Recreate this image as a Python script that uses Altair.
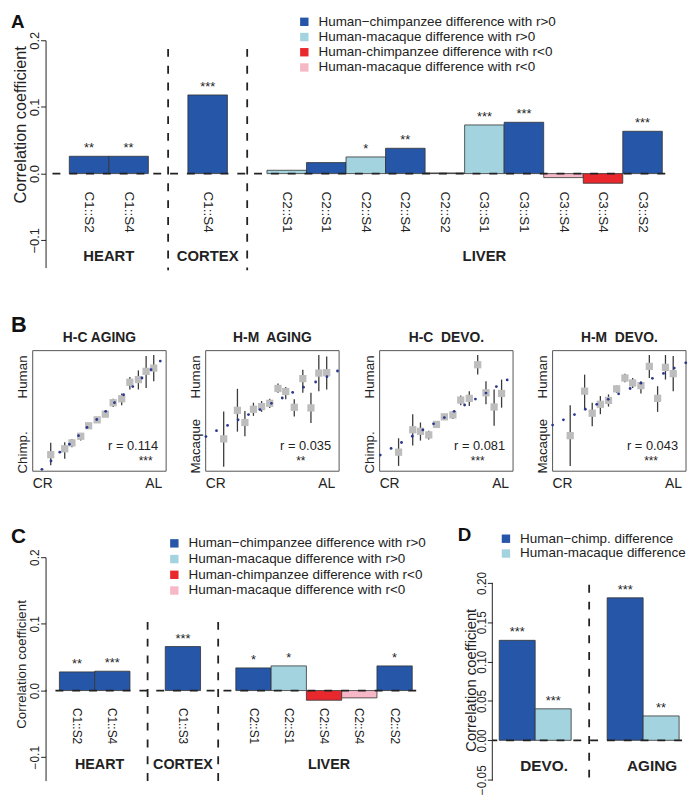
import altair as alt
import pandas as pd

FONT = "Liberation Sans"
INK = "#222222"
DARK = "#2556a7"
LIGHT = "#a3d3df"
RED = "#e8282d"
PINK = "#f6b8c6"
GREY = "#bdbdbd"
NAVY = "#29378d"
DASH = [8, 9]

LEG4 = ["Human\u2212chimpanzee difference with r>0",
        "Human-macaque difference with r>0",
        "Human-chimpanzee difference with r<0",
        "Human-macaque difference with r<0"]
COL4 = [DARK, LIGHT, RED, PINK]

# ---------------- Panel A ----------------
a_group = ["HEART", "HEART", "CORTEX"] + ["LIVER"] * 10
a_label = ["C1::S2", "C1::S4", "C1::S4", "C2::S1", "C2::S1", "C2::S4", "C2::S4",
           "C2::S2", "C3::S1", "C3::S1", "C3::S4", "C3::S4", "C3::S2"]
a_kind = [0, 0, 0, 1, 0, 1, 0, 0, 1, 0, 3, 2, 0]
a_value = [0.026, 0.026, 0.118, 0.005, 0.0165, 0.025, 0.038, 0.001,
           0.073, 0.077, -0.006, -0.0145, 0.0635]
a_stars = ["**", "**", "***", "", "", "*", "**", "", "***", "***", "", "", "***"]

# ---------------- Panel C ----------------
c_group = ["HEART", "HEART", "CORTEX", "LIVER", "LIVER", "LIVER", "LIVER", "LIVER"]
c_label = ["C1::S2", "C1::S4", "C1::S3", "C2::S1", "C2::S1", "C2::S4", "C2::S4", "C2::S2"]
c_kind = [0, 0, 0, 0, 1, 2, 3, 0]
c_value = [0.028, 0.029, 0.066, 0.034, 0.037, -0.0145, -0.011, 0.037]
c_stars = ["**", "***", "***", "*", "*", "", "", "*"]

# ---------------- Panel D ----------------
d_group = ["DEVO.", "DEVO.", "AGING", "AGING"]
d_label = ["", "", "", ""]
d_kind = [0, 1, 0, 1]
d_value = [0.127, 0.040, 0.181, 0.031]
d_stars = ["***", "***", "***", "**"]
d_names = ["Human\u2212chimp. difference", "Human-macaque difference"]
d_colors = [DARK, LIGHT]

# ---------------- Panel B ----------------
b_title = ["H-C AGING", "H-M\u00a0 AGING", "H-C\u00a0 DEVO.", "H-M\u00a0 DEVO."]
b_low_label = ["Chimp.", "Macaque", "Chimp.", "Macaque"]
b_r = ["r = 0.114", "r = 0.035", "r = 0.081", "r = 0.043"]
b_sig = ["***", "**", "***", "***"]

b_dot_x = [
    [0.069, 0.137, 0.203, 0.275, 0.343, 0.407, 0.480, 0.547, 0.613, 0.681, 0.750, 0.819, 0.887, 0.956],
    [0.002, 0.081, 0.164, 0.243, 0.321, 0.407, 0.493, 0.574, 0.652, 0.733, 0.824, 0.909, 0.988],
    [0.005, 0.086, 0.164, 0.245, 0.324, 0.404, 0.485, 0.559, 0.637, 0.718, 0.797, 0.875, 0.956],
    [0.000, 0.081, 0.164, 0.245, 0.331, 0.417, 0.495, 0.581, 0.662, 0.748, 0.831, 0.912, 0.998],
]
b_dot_y = [
    [0.016, 0.085, 0.158, 0.224, 0.295, 0.363, 0.429, 0.497, 0.568, 0.634, 0.702, 0.773, 0.842, 0.913],
    [0.287, 0.336, 0.380, 0.426, 0.470, 0.511, 0.563, 0.607, 0.653, 0.697, 0.740, 0.784, 0.831],
    [0.134, 0.189, 0.238, 0.290, 0.342, 0.393, 0.445, 0.497, 0.549, 0.598, 0.648, 0.702, 0.757],
    [0.383, 0.426, 0.470, 0.514, 0.555, 0.596, 0.642, 0.686, 0.730, 0.770, 0.811, 0.855, 0.899],
]
b_sq_x = [
    [0.135, 0.240, 0.294, 0.360, 0.419, 0.483, 0.544, 0.603, 0.667, 0.728, 0.792, 0.850, 0.907],
    [0.135, 0.238, 0.294, 0.358, 0.419, 0.480, 0.542, 0.600, 0.664, 0.728, 0.789, 0.848, 0.907],
    [0.142, 0.248, 0.306, 0.368, 0.426, 0.485, 0.549, 0.608, 0.672, 0.735, 0.797, 0.858, 0.914],
    [0.132, 0.240, 0.297, 0.358, 0.419, 0.480, 0.542, 0.600, 0.662, 0.725, 0.787, 0.846, 0.904],
]
b_sq_y = [
    [0.137, 0.186, 0.235, 0.290, 0.377, 0.426, 0.473, 0.568, 0.601, 0.738, 0.760, 0.828, 0.855],
    [0.268, 0.505, 0.404, 0.514, 0.536, 0.563, 0.686, 0.661, 0.530, 0.768, 0.525, 0.814, 0.817],
    [0.158, 0.344, 0.331, 0.301, 0.388, 0.451, 0.467, 0.590, 0.604, 0.883, 0.650, 0.533, 0.645],
    [0.295, 0.664, 0.481, 0.555, 0.587, 0.683, 0.773, 0.732, 0.710, 0.869, 0.604, 0.861, 0.809],
]
b_sq_lo = [
    [0.049, 0.104, 0.199, 0.254, 0.366, 0.410, 0.456, 0.533, 0.546, 0.678, 0.678, 0.691, 0.746],
    [0.036, 0.328, 0.290, 0.459, 0.492, 0.525, 0.650, 0.596, 0.454, 0.650, 0.399, 0.664, 0.678],
    [0.044, 0.213, 0.254, 0.262, 0.377, 0.437, 0.432, 0.546, 0.541, 0.801, 0.555, 0.377, 0.527],
    [0.044, 0.519, 0.372, 0.473, 0.536, 0.650, 0.738, 0.691, 0.645, 0.773, 0.492, 0.760, 0.664],
]
b_sq_hi = [
    [0.235, 0.240, 0.268, 0.317, 0.388, 0.443, 0.489, 0.601, 0.645, 0.781, 0.836, 0.956, 0.964],
    [0.495, 0.683, 0.500, 0.568, 0.582, 0.601, 0.727, 0.699, 0.596, 0.842, 0.650, 0.964, 0.951],
    [0.273, 0.473, 0.404, 0.336, 0.399, 0.464, 0.500, 0.628, 0.664, 0.964, 0.746, 0.678, 0.760],
    [0.546, 0.801, 0.568, 0.623, 0.637, 0.710, 0.809, 0.773, 0.746, 0.964, 0.705, 0.964, 0.956],
]

# ---------------- layout (pixels) ----------------
STAR_X = [0.846, 0.713, 0.735, 0.738]
B_XMIN = [13 / 135, 0, 0, 0]          # first panel starts 13px left of the common origin
B_W = [122, 135, 135, 135]
B_CELLS = [(-37, -57, 135, 158), (-25, -57, 153, 158), (-21, -57, 154, 158),
           (-19, -57, 136, 158)]


def cell(l, t, r, b):
    return alt.Chart(pd.DataFrame({"f": [0]})).mark_rect(opacity=0).encode(
        x=alt.value(l), x2=alt.value(r), y=alt.value(t), y2=alt.value(b))


def letter(t, x, y, size):
    return alt.Chart(pd.DataFrame({"t": [t]})).mark_text(
        fontSize=size, fontWeight="bold", font=FONT, color="#111111", align="left",
        baseline="alphabetic").encode(x=alt.value(x), y=alt.value(y), text="t:N")


def build_slots(groups):
    ids, order, gaps = [], [], []
    for i, g in enumerate(groups):
        if i > 0 and g != groups[i - 1]:
            gid = f"gap{len(gaps)}"
            gaps.append(gid)
            order.append(gid)
        sid = f"bar{i:02d}"
        ids.append(sid)
        order.append(sid)
    return ids, order, gaps


def bar_panel(groups, labels, kinds, values, stars, names, colors, st):
    ids, order, gaps = build_slots(groups)
    df = pd.DataFrame({"slot": ids, "group": groups, "label": labels,
                       "kind": [names[k] for k in kinds], "value": values, "stars": stars})
    xsc = alt.Scale(domain=order, paddingInner=0, paddingOuter=st["po"], align=st["align"])
    ysc = alt.Scale(domain=st["ydom"], nice=False, zero=False)

    def X(**kw):
        return alt.X("slot:N", scale=xsc, sort=order, axis=None, **kw)

    yaxis = alt.Axis(values=st["yticks"], format=st["yfmt"], title="Correlation coefficient",
                     grid=False, labelAngle=270, labelAlign="center", labelBaseline="alphabetic",
                     tickSize=5, labelPadding=2, labelFontSize=st["tick_font"], labelFont=FONT,
                     labelColor=INK, tickColor=INK, domain=not st.get("rule_axis", False),
                     domainColor=INK, titleFont=FONT,
                     titleFontSize=st["title_font"], titleFontWeight="normal", titleColor=INK,
                     titleAngle=270, titleBaseline="alphabetic", titleAlign="center",
                     titleX=st["title_x"], titleY=st["title_y"])
    legend = alt.Legend(title=None, orient="none", legendX=st["leg_x"], legendY=st["leg_y"],
                        symbolType="square", symbolSize=72, symbolStrokeWidth=0,
                        labelFont=FONT, labelFontSize=13.6, labelColor=INK, labelLimit=400,
                        rowPadding=st["row_pad"], labelOffset=7.5, padding=0)
    base = alt.Chart(df)
    bars = base.mark_bar(stroke="#333333", strokeWidth=0.8).encode(
        x=X(), y=alt.Y("value:Q", scale=ysc, axis=yaxis), y2=alt.datum(0),
        color=alt.Color("kind:N", scale=alt.Scale(domain=names, range=colors), legend=legend))
    zero = alt.Chart(pd.DataFrame({"z": [0]})).mark_rule(
        strokeDash=DASH, strokeWidth=1.8, color=INK).encode(y=alt.datum(0))
    seps = alt.Chart(pd.DataFrame({"slot": gaps})).mark_rule(
        strokeDash=DASH, strokeWidth=1.8, color=INK).encode(
        x=X(), y=alt.datum(st["sep_top"]), y2=alt.datum(st["sep_bottom"]))
    star_txt = base.mark_text(dy=-4, baseline="alphabetic", fontSize=13, font=FONT,
                              color=INK).encode(x=X(), y=alt.Y("value:Q", scale=ysc, axis=yaxis),
                                                text="stars:N")
    layers = [cell(*st["cell"]), bars, zero, seps, star_txt]
    if st.get("rule_axis", False):
        layers.append(alt.Chart(pd.DataFrame({"a": [0]})).mark_rule(
            color=INK, strokeWidth=1).encode(
            x=alt.value(0), y=alt.datum(st["yticks"][-1]), y2=alt.datum(st["ydom"][0])))
    if any(labels):
        cats = base.mark_text(angle=90, align="left", baseline="middle", font=FONT,
                              fontSize=st["cat_font"], color=INK).encode(
            x=X(), y=alt.datum(st["cat_y"]), text="label:N")
        layers.append(cats)
    seen = []
    for g in groups:
        if g not in seen:
            seen.append(g)
    for g in seen:
        members = [s for s, gg in zip(ids, groups) if gg == g]
        n = len(members)
        if n % 2 == 0:
            anchor, bp = members[n // 2 - 1], 1.0
        else:
            anchor, bp = members[n // 2], 0.5
        layers.append(
            alt.Chart(pd.DataFrame({"slot": [anchor], "name": [g]})).mark_text(
                fontWeight="bold", fontSize=st["group_font"], font=FONT, color=INK,
                baseline="alphabetic", dx=st["group_dx"].get(g, 0)).encode(
                x=X(bandPosition=bp), y=alt.datum(st["group_y"]), text="name:N"))
    layers.append(letter(st["letter"], st["letter_x"], st["letter_y"], st["letter_size"]))
    return alt.layer(*layers).properties(width=st["width"], height=st["height"])


def b_panel(i):
    xs = alt.Scale(domain=[B_XMIN[i], 1], nice=False, zero=False)
    ys = alt.Scale(domain=[0, 1], nice=False, zero=False)

    def XQ(f):
        return alt.X(f, scale=xs, axis=None)

    def YQ(f):
        return alt.Y(f, scale=ys, axis=None)

    sq = pd.DataFrame({"x": b_sq_x[i], "y": b_sq_y[i], "lo": b_sq_lo[i], "hi": b_sq_hi[i]})
    dots = pd.DataFrame({"x": b_dot_x[i], "y": b_dot_y[i]})
    # the unit square of the panel's data space
    box = pd.DataFrame({"x0": [0.0], "x1": [1.0], "y0": [0.0], "y1": [1.0]})
    frame = alt.Chart(box).mark_rect(fillOpacity=0, stroke="#555555", strokeWidth=1).encode(
        x=XQ("x0:Q"), x2="x1:Q", y=YQ("y0:Q"), y2="y1:Q")
    err = alt.Chart(sq).mark_rule(color="#3a3a3a", strokeWidth=1.3).encode(
        x=XQ("x:Q"), y=YQ("lo:Q"), y2="hi:Q")
    boxes = alt.Chart(sq).mark_square(size=54, color=GREY, opacity=1).encode(
        x=XQ("x:Q"), y=YQ("y:Q"))
    pts = alt.Chart(dots).mark_circle(size=8, color=NAVY, opacity=1).encode(
        x=XQ("x:Q"), y=YQ("y:Q"))
    txt = dict(font=FONT, color=INK)

    def label(t, x, y, **kw):
        return alt.Chart(pd.DataFrame({"t": [t]})).mark_text(**txt, **kw).encode(
            x=x, y=y, text="t:N")

    layers = [
        cell(*B_CELLS[i]), frame, err, boxes, pts,
        label("Human", alt.datum(-0.075), alt.datum(0.96), angle=270, align="right",
              baseline="middle", fontSize=13.5),
        label(b_low_label[i], alt.datum(-0.075), alt.datum(-0.02), angle=270, align="left",
              baseline="middle", fontSize=13.5),
        label("CR", alt.datum(0.0), alt.datum(-0.05), align="left", baseline="top", fontSize=14),
        label("AL", alt.datum(0.97), alt.datum(-0.05), align="right", baseline="top", fontSize=14),
        label(b_r[i], alt.datum(0.94), alt.datum(0.21), align="right", baseline="middle",
              fontSize=13),
        label(b_sig[i], alt.datum(STAR_X[i]), alt.datum(0.085), align="center",
              baseline="middle", fontSize=12),
        label(b_title[i], alt.datum(0.5), alt.value(-9), align="center", baseline="alphabetic",
              fontSize=14, fontWeight="bold"),
    ]
    if i == 0:
        layers.append(letter("B", -35, -19, 22))
    return alt.layer(*layers).properties(width=B_W[i], height=122)


chart_a = bar_panel(a_group, a_label, a_kind, a_value, a_stars, LEG4, COL4, dict(
    cell=(-37, -27, 642, 255),
    width=627, height=230, po=0.3375, align=0.889, ydom=[-0.141, 0.2],
    yticks=[-0.1, 0.0, 0.1, 0.2], yfmt=".1f", tick_font=13, title_font=16.5,
    title_x=-20, title_y=85, leg_x=255, leg_y=-25.5, row_pad=0.4,
    sep_top=0.187, sep_bottom=-0.145, cat_y=-0.027, cat_font=13.6,
    group_y=-0.1314, group_font=15, group_dx={"LIVER": 20},
    letter="A", letter_x=-35, letter_y=-12, letter_size=19))

chart_c = bar_panel(c_group, c_label, c_kind, c_value, c_stars, LEG4, COL4, dict(
    cell=(-37, -49, 410, 229),
    width=375, height=226, po=0.252, align=0.778, ydom=[-0.135, 0.2],
    yticks=[-0.1, 0.0, 0.1, 0.2], yfmt=".1f", tick_font=12, title_font=13.5,
    title_x=-20, title_y=108, leg_x=123.5, leg_y=-20.8, row_pad=0.9,
    sep_top=0.103, sep_bottom=-0.137, cat_y=-0.026, cat_font=12,
    group_y=-0.118, group_font=14.5, group_dx={"HEART": 5, "LIVER": 5},
    letter="C", letter_x=-35, letter_y=-14, letter_size=21))

chart_d = bar_panel(d_group, d_label, d_kind, d_value, d_stars, d_names, d_colors, dict(
    cell=(-40, -49, 193, 229), rule_axis=True,
    width=192, height=226, po=0.137, align=0.7, ydom=[-0.0511, 0.2326],
    yticks=[-0.05, 0.0, 0.05, 0.10, 0.15, 0.20], yfmt=".2f", tick_font=12, title_font=15,
    title_x=-17, title_y=124, leg_x=7, leg_y=-25.5, row_pad=0,
    sep_top=0.1975, sep_bottom=-0.055, cat_y=-0.03, cat_font=12,
    group_y=-0.0385, group_font=15.5, group_dx={"DEVO.": 9, "AGING": 9},
    letter="D", letter_x=-35, letter_y=-16, letter_size=19))

IND = dict(color="independent", x="independent", y="independent")

row_b = alt.hconcat(*[b_panel(i) for i in range(4)], spacing=0).resolve_scale(**IND)
row_c = alt.hconcat(chart_c, chart_d, spacing=0).resolve_scale(**IND)
chart = alt.vconcat(chart_a, row_b, row_c, spacing=0).resolve_scale(**IND).properties(
    padding=0).configure(font=FONT, view=alt.ViewConfig(stroke="transparent"))

chart.save("out.html", embed_options={"renderer": "svg", "actions": False})
